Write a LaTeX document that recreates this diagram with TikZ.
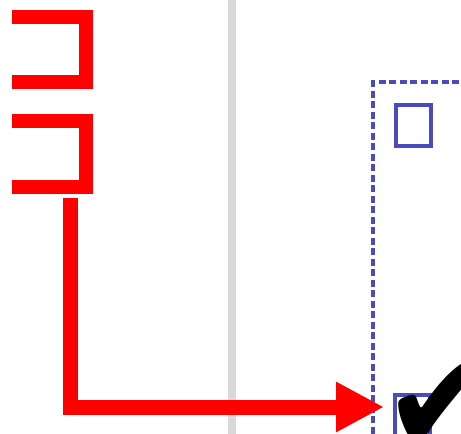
\documentclass[tikz,border=0pt]{standalone}
\usepackage{fontspec}
\newfontfamily\symfont{DejaVu Sans}
\usetikzlibrary{arrows.meta}
\definecolor{boxblue}{RGB}{75,75,190}
\begin{document}
\begin{tikzpicture}[x=1pt,y=-1pt,
  bracket/.style={red, line width=14pt, line join=miter},
  redarrow/.style={red, line width=15pt, -{Triangle[length=48pt,width=47pt]}},
  checkbox/.style={draw=boxblue, line width=3.5pt, minimum width=35pt, minimum height=41pt, inner sep=0pt}]
\useasboundingbox (0,0) rectangle (461,434);

% Divider
\draw[gray!30, line width=8pt] (232,0) -- (232,434);

% Brackets
\draw[bracket] (12,17) -- (85.5,17) -- (85.5,82) -- (12,82);
\draw[bracket] (12,121) -- (85.5,121) -- (85.5,187) -- (12,187);

% Dashed frame and boxes
\draw[boxblue, line width=4pt, dash pattern=on 7pt off 3.5pt] (480,82) -- (373,82) -- (373,460);
\node[checkbox] (boxa) at (413.5,125.5) {};
\node[checkbox] (boxb) at (412.5,415.5) {};

% Check
\node[inner sep=0pt, font=\symfont\fontsize{140}{140}\selectfont] (tick) at (441,405) {✔};

% Arrow
\coordinate (tail) at (70,198);
\coordinate (head) at (384,407);
\draw[redarrow] (tail) |- (head);
\end{tikzpicture}
\end{document}
